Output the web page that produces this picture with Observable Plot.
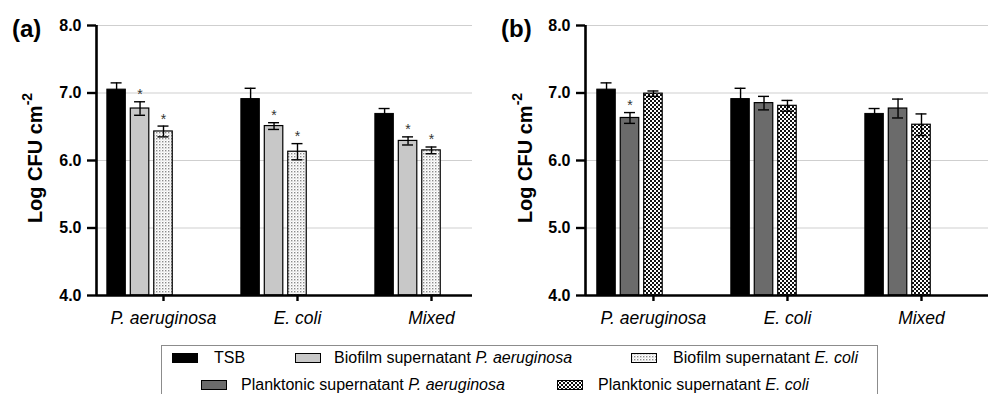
<!DOCTYPE html>
<html><head><meta charset="utf-8">
<script src="https://cdn.jsdelivr.net/npm/d3@7"></script>
<script src="https://cdn.jsdelivr.net/npm/@observablehq/plot@0.6"></script>
<style>
body{margin:0;background:#fff;font-family:"Liberation Sans",Arial,sans-serif;overflow:hidden}
#wrap{position:relative;width:990px;height:394px;overflow:hidden;background:#fff}
.panel{position:absolute;top:0}
.plabel{position:absolute;font-weight:bold;font-size:24px;line-height:1}
.ylab{position:absolute;font-weight:bold;font-size:20px;white-space:nowrap;transform:translate(-50%,-50%) rotate(-90deg);line-height:1}
.ylab sup{font-size:14px;position:relative;top:-3px}
#legend{position:absolute;left:161px;top:345px;width:717px;height:70px;border:1px solid #8c8c8c;box-sizing:border-box}
.li{position:absolute;font-size:16px;white-space:nowrap;line-height:1}
</style>
</head><body>
<svg width="0" height="0" style="position:absolute">
<defs>
<pattern id="dots" width="3" height="3" patternUnits="userSpaceOnUse"><rect width="3" height="3" fill="#fff"/><rect x="0" y="0" width="1.4" height="1.4" fill="#8a8a8a"/><rect x="1.5" y="1.5" width="1" height="1" fill="#c8c8c8"/></pattern>
<pattern id="checks" width="4" height="4" patternUnits="userSpaceOnUse"><rect width="4" height="4" fill="#fff"/><rect width="2" height="2" fill="#111"/><rect x="2" y="2" width="2" height="2" fill="#111"/></pattern>
</defs></svg>
<div id="wrap">
  <div id="pa" class="panel" style="left:0"></div>
  <div id="pb" class="panel" style="left:490px"></div>
  <div class="plabel" style="left:12px;top:17px">(a)</div>
  <div class="plabel" style="left:501px;top:17px">(b)</div>
  <div class="ylab" style="left:34px;top:158px">Log CFU cm<sup>-2</sup></div>
  <div class="ylab" style="left:524px;top:158px">Log CFU cm<sup>-2</sup></div>
  <div id="legend"></div>
</div>
<script>
// ---- data ----
const groups = ["P. aeruginosa", "E. coli", "Mixed"];
const yTicks = [4, 5, 6, 7, 8];

const tsb        = [7.05, 6.91, 6.69];
const tsbErr     = [0.10, 0.16, 0.08];

const bioPA      = [6.77, 6.51, 6.29];
const bioPAErr   = [0.10, 0.05, 0.06];
const bioPAStar  = [true, true, true];

const bioEC      = [6.43, 6.13, 6.15];
const bioECErr   = [0.08, 0.12, 0.05];
const bioECStar  = [true, true, true];

const plankPA     = [6.63, 6.85, 6.77];
const plankPAErr  = [0.08, 0.10, 0.14];
const plankPAStar = [true, false, false];

const plankEC     = [6.99, 6.81, 6.53];
const plankECErr  = [0.04, 0.08, 0.16];
const plankECStar = [false, false, false];

const legendRow1 = ["TSB", "Biofilm supernatant P. aeruginosa", "Biofilm supernatant E. coli"];
const legendRow2 = ["Planktonic supernatant P. aeruginosa", "Planktonic supernatant E. coli"];

// ---- build ----
const STEP = 0.175, BW = 0.138, CAP = 0.041;
function rows(values, errs, stars, slot) {
  return values.map((v, g) => {
    const c = g + (slot - 2) * STEP;
    return {g, c, x1: c - BW / 2, x2: c + BW / 2, v, lo: v - errs[g], hi: v + errs[g], star: stars ? stars[g] : false};
  });
}
function barMarks(data, fill, stroke) {
  return [
    Plot.rect(data, {x1: "x1", x2: "x2", y1: yTicks[0], y2: "v", fill, stroke: "#000", strokeWidth: stroke}),
    Plot.ruleX(data, {x: "c", y1: "lo", y2: "hi", stroke: "#000", strokeWidth: 1.4}),
    Plot.ruleY(data, {y: "hi", x1: d => d.c - CAP, x2: d => d.c + CAP, stroke: "#000", strokeWidth: 1.4}),
    Plot.ruleY(data, {y: "lo", x1: d => d.c - CAP, x2: d => d.c + CAP, stroke: "#000", strokeWidth: 1.4}),
    Plot.text(data.filter(d => d.star), {x: "c", y: "hi", text: () => "*", dy: -7, fontSize: 14, fill: "#333"})
  ];
}
function panel(domain, width, ml, mr, series) {
  return Plot.plot({
    width, height: 335, marginLeft: ml, marginRight: mr, marginTop: 25, marginBottom: 40,
    style: {fontFamily: "'Liberation Sans', Arial, sans-serif", fontSize: "16px", background: "transparent", color: "#000", overflow: "visible"},
    x: {type: "linear", domain},
    y: {domain: [yTicks[0], yTicks[yTicks.length - 1]]},
    marks: [
      Plot.gridY({ticks: yTicks.slice(1), stroke: "#cfcfcf", strokeOpacity: 1, strokeWidth: 1}),
      ...series.flatMap(s => barMarks(s.data, s.fill, s.sw)),
      Plot.ruleY([yTicks[0]], {stroke: "#000", strokeWidth: 2.6}),
      Plot.ruleX([domain[0]], {y1: yTicks[0], y2: yTicks[yTicks.length - 1], stroke: "#000", strokeWidth: 2.6}),
      Plot.axisY({ticks: yTicks, tickFormat: d3.format(".1f"), tickSize: 9, tickPadding: 6, fontSize: 16, fontWeight: "bold", strokeWidth: 2.4, label: null}),
      Plot.axisX({ticks: [0, 1, 2], tickFormat: i => groups[i], tickSize: 6, tickPadding: 10, fontSize: 17.5, fontStyle: "italic", strokeWidth: 2.4, label: null})
    ]
  });
}
const seriesA = [
  {data: rows(tsb, tsbErr, null, 0), fill: "#000", sw: 1},
  {data: rows(bioPA, bioPAErr, bioPAStar, 1), fill: "#c8c8c8", sw: 1.2},
  {data: rows(bioEC, bioECErr, bioECStar, 2), fill: "url(#dots)", sw: 1.2}
];
const seriesB = [
  {data: rows(tsb, tsbErr, null, 0), fill: "#000", sw: 1},
  {data: rows(plankPA, plankPAErr, plankPAStar, 1), fill: "#6b6b6b", sw: 1.2},
  {data: rows(plankEC, plankECErr, plankECStar, 2), fill: "url(#checks)", sw: 1.2}
];
document.getElementById("pa").append(panel([-0.5, 2.306], 490, 96, 18, seriesA));
document.getElementById("pb").append(panel([-0.507, 2.5], 500, 95, 2, seriesB));

// ---- legend ----
function speciesHTML(s) {
  return s.replace(/(P\. aeruginosa|E\. coli)/, "<i>$1</i>");
}
const leg = document.getElementById("legend");
const legendItems = [
  {label: legendRow1[0], fill: "#000", sx: 10, tx: 52, row: 0},
  {label: legendRow1[1], fill: "#c8c8c8", sx: 133, tx: 172, row: 0},
  {label: legendRow1[2], fill: "url(#dots)", sx: 469, tx: 511, row: 0},
  {label: legendRow2[0], fill: "#6b6b6b", sx: 39, tx: 79, row: 1},
  {label: legendRow2[1], fill: "url(#checks)", sx: 395, tx: 436, row: 1}
];
const rowTextTop = [4, 31], rowSwTop = [6.5, 33.5];
legendItems.forEach(it => {
  const sw = document.createElementNS("http://www.w3.org/2000/svg", "svg");
  sw.setAttribute("width", 26); sw.setAttribute("height", 10);
  sw.style.position = "absolute"; sw.style.left = it.sx + "px"; sw.style.top = rowSwTop[it.row] + "px";
  sw.innerHTML = `<rect x="0.5" y="0.5" width="25" height="9" fill="${it.fill}" stroke="#000" stroke-width="1"/>`;
  leg.append(sw);
  const t = document.createElement("div");
  t.className = "li"; t.style.left = it.tx + "px"; t.style.top = rowTextTop[it.row] + "px";
  t.innerHTML = speciesHTML(it.label);
  leg.append(t);
});
</script>
</body></html>
